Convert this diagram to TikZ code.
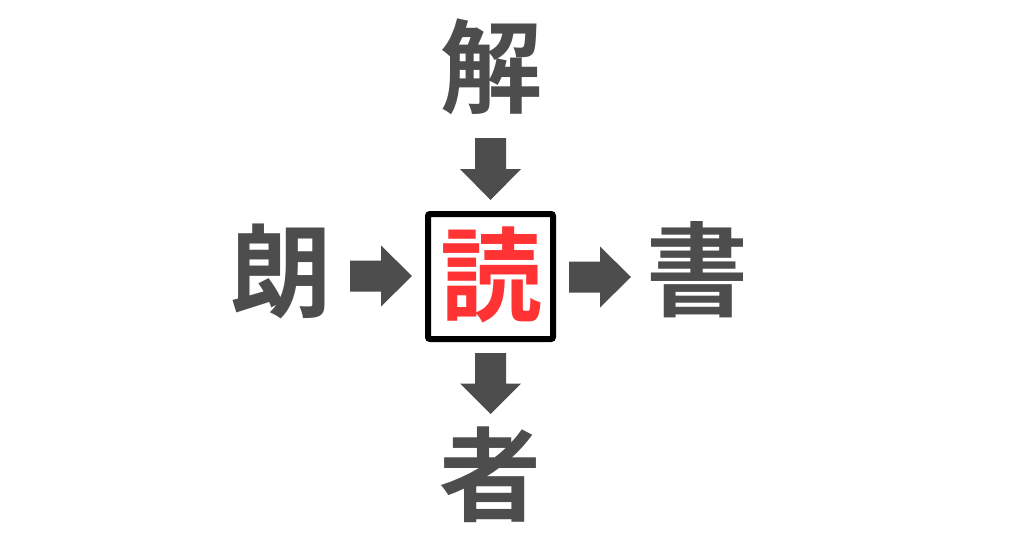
\documentclass[tikz,border=0pt]{standalone}
\usepackage{fontspec}
\newfontfamily\cjk{Noto Sans CJK JP}[UprightFont=* Bold]
\usetikzlibrary{calc}
\definecolor{kgray}{HTML}{4D4D4D}
\definecolor{kred}{HTML}{FF3333}
\tikzset{
  kanji/.style={inner sep=0pt, font=\cjk\fontsize{102}{102}\selectfont, text=kgray},
  centerkanji/.style={kanji, text=kred},
  framebox/.style={draw=black, line width=6pt, rounded corners=2pt, fill=white},
  arrowfill/.style={fill=kgray},
}
\newcommand\blockarr[2]{%
  \coordinate (hh) at ($(#1)!0.5!(#2)$);
  \fill[arrowfill] ($(#1)!15.5pt!90:(#2)$) -- ($(hh)!15.5pt!90:(#2)$) -- ($(hh)!30.5pt!90:(#2)$)
    -- (#2) -- ($(hh)!30.5pt!-90:(#2)$) -- ($(hh)!15.5pt!-90:(#2)$) -- ($(#1)!15.5pt!-90:(#2)$) -- cycle;}
\begin{document}
\begin{tikzpicture}[x=1pt,y=-1pt]
\useasboundingbox (0,0) rectangle (1024,538);
\fill[white] (0,0) rectangle (1024,538);
\draw[framebox] (428,214) rectangle (553,339);
\node[centerkanji] (doku) at (491,275) {読};
\node[kanji] (kai) at (491,67) {解};
\node[kanji] (rou) at (281,271) {朗};
\node[kanji] (sho) at (697,270) {書};
\node[kanji] (sha) at (490,475) {者};
\coordinate (t1) at (490.5,138); \coordinate (p1) at (490.5,200);
\coordinate (t2) at (350,276);   \coordinate (p2) at (412,276);
\coordinate (t3) at (569,277);   \coordinate (p3) at (631,277);
\coordinate (t4) at (490.5,353); \coordinate (p4) at (490.5,414);
\blockarr{t1}{p1}
\blockarr{t2}{p2}
\blockarr{t3}{p3}
\blockarr{t4}{p4}
\end{tikzpicture}
\end{document}
